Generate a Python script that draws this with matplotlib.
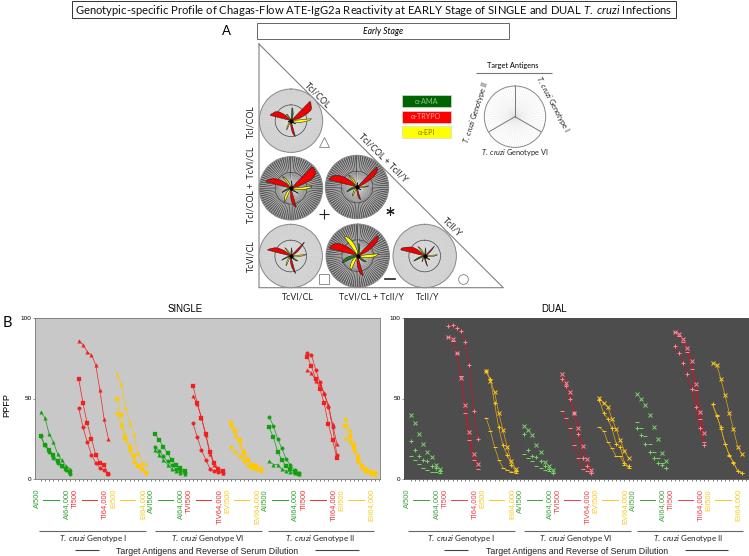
import matplotlib
matplotlib.use('Agg')
import matplotlib.pyplot as plt
import numpy as np

plt.rcParams['font.family'] = ['Liberation Sans', 'DejaVu Sans']
plt.rcParams['mathtext.fontset'] = 'custom'
plt.rcParams['mathtext.it'] = 'Lato:italic'
plt.rcParams['mathtext.rm'] = 'Lato'

W, H = 749, 556

first_labels = ['AI500', 'TI500', 'EI500', 'AVI500', 'TVI500', 'EVI500', 'AII500', 'TII500', 'EII500']
last_labels = ['AI64,000', 'TI64,000', 'EI64,000', 'AI64,000', 'TIV64,000', 'EVI64,000', 'AII64,000', 'TII64,000', 'EII64,000']
genotype_names = ['Genotype I', 'Genotype VI', 'Genotype II']

# values per series: 9 groups (AI TI EI AVI TVI EVI AII TII EII) of 8 dilutions
single_tri = [41.5, 38, 28, 23, 15.5, 11.5, 8, 6,
              86, 83.5, 79, 77, 71, 55, 37, 25,
              65, 59, 45, 35, 28, 16, 10, 9.5,
              18, 15, 12, 9, 6, 5, 3.5, 3,
              51.5, 46.5, 38, 27.5, 15.5, 9, 5, 4,
              33, 27, 22, 14, 11.5, 8, 7, 5.5,
              11, 9, 9, 6, 5, 4.5, 4, 3,
              67.5, 66, 61, 59, 53.5, 46, 34, 22,
              25.5, 23.5, 18, 11, 7, 5, 4, 2.5]
single_sq = [26.5, 21, 18, 15, 11, 8, 6, 4.5,
             62, 47, 34.5, 25, 15, 10, 8.5, 3,
             50, 40, 26, 20, 14, 8, 6, 4,
             28, 24.5, 20, 16, 11.5, 8.5, 7, 5,
             58, 47, 38, 28, 17, 10, 6.5, 5,
             34.5, 30, 24, 17, 12, 9, 8, 6,
             32, 26, 17, 12, 8, 6, 4.5, 3,
             76, 70, 62, 56, 47, 34, 24, 13,
             33, 26, 19, 11.5, 8, 5, 4, 3.5]
single_cir = [26.5, 21, 17, 13, 10, 8, 5.5, 3,
              44, 32, 23, 15, 10, 7, 5.5, 3,
              41, 33.5, 25, 18, 10.5, 8, 6, 4,
              20, 17.5, 14, 11, 8.5, 6, 5, 4,
              34.5, 26, 18, 12, 6.5, 5, 4.5, 4,
              20, 16.5, 14, 11, 8, 7, 6, 5,
              38.5, 33, 25, 19, 12.5, 8.5, 5.5, 4,
              78, 77, 68, 60, 53, 45, 32, 15,
              37.5, 30, 22, 14, 8, 6, 5, 4]
dual_x = [40, 34.5, 28, 22, 16.5, 13.5, 9, 6.5,
          88.5, 87, 78, 63, 46, 29, 15.5, 9.5,
          67, 61, 54, 41, 30.5, 20, 11, 6.5,
          33, 30.5, 27.5, 21, 16.5, 10.5, 8, 5.5,
          65, 59.5, 54, 41, 31.5, 20.5, 12.5, 5.5,
          50.5, 47, 45, 37.5, 31, 24, 17.5, 13,
          53, 50, 46, 40, 32.5, 25, 16, 11,
          91.5, 90, 87, 81.5, 73, 59, 41.5, 28.5,
          72, 71, 62, 52, 41, 31, 20, 15.5]
dual_plus = [23.5, 18, 14.5, 12, 11, 8, 7, 5,
             95, 95.5, 94, 92, 85, 70.5, 42, 25,
             67, 62, 47, 32, 21, 15, 9, 5,
             28, 18, 14.5, 13.5, 11, 8, 6, 4,
             62, 58, 50, 41, 28, 13, 8, 4,
             49, 41, 37.5, 31.5, 22, 20, 10, 8,
             31.5, 27.5, 21.5, 16.5, 13, 10, 8.5, 7,
             82.5, 78.5, 72, 65, 56, 45, 31.5, 21,
             46.5, 39, 32, 22, 15, 10, 5, 4]
dual_minus = [14.5, 11.5, 9.5, 7, 5.5, 4.5, 4.5, 3.5,
              88.5, 86, 78, 64, 41, 24, 12, 6,
              38, 30, 20, 12, 7, 5.5, 4.5, 4,
              15.5, 13, 11, 8, 7, 5.5, 5, 3.5,
              42, 38, 31.5, 21, 13, 6, 5, 3.5,
              32, 30, 23, 19, 14, 14, 9, 7,
              35.5, 31.5, 26.5, 21.5, 16.5, 13, 10, 7,
              91.5, 89, 85, 79, 68.5, 55, 37, 23,
              46.5, 40, 31, 22, 14.5, 10.5, 5, 3.5]

fig = plt.figure(figsize=(W / 100, H / 100), dpi=100, facecolor='white')


def px_axes(x0, y0, x1, y1, **kw):
    return fig.add_axes([x0 / W, 1 - y1 / H, (x1 - x0) / W, (y1 - y0) / H], **kw)


# overlay in pixel coordinates for the boxes and loose text
bg = px_axes(0, 0, W, H)
bg.set_xlim(0, W)
bg.set_ylim(H, 0)
bg.axis('off')
cal = ['Lato', 'DejaVu Sans']


def box(x0, y0, x1, y1, fc='white', ec='#555555', lw=0.7):
    bg.fill([x0, x1, x1, x0], [y0, y0, y1, y1], fc=fc, ec=ec, lw=lw)


def hline(x0, x1, y, color='#555555', lw=0.8):
    bg.plot([x0, x1], [y, y], color=color, lw=lw, solid_capstyle='butt')


box(72, 1, 676, 18, ec='#333333')
bg.text(374, 10, 'Genotypic-specific Profile of Chagas-Flow ATE-IgG2a Reactivity at EARLY Stage of SINGLE and DUAL $T.\\ cruzi$ Infections',
        ha='center', va='center', fontsize=8.1, family=cal, color='#111111')
bg.text(226, 31, 'A', ha='center', va='center', fontsize=9.5, family=cal)
box(257, 23, 509, 39, ec='#666666')
bg.text(383, 31.5, 'Early Stage', ha='center', va='center', fontsize=6.2, style='italic', family=cal)

# triangle
bg.plot([259, 259, 503.3, 259], [44, 287.7, 287.7, 44], color='#808080', lw=0.8)
for x, y, s in [(251, 121.7, 'TcI/COL'), (251, 185, 'TcI/COL +  TcVI/CL'), (251, 256, 'TcVI/CL')]:
    bg.text(x, y, s, rotation=90, ha='center', va='center', fontsize=6.3, family=cal, color='#222222')
for x, s in [(298, 'TcVI/CL'), (371.7, 'TcVI/CL + TcII/Y'), (428, 'TcII/Y')]:
    bg.text(x, 296.7, s, ha='center', va='center', fontsize=6.3, family=cal, color='#222222')
for x, y, s in [(317, 95, 'TcI/COL'), (383, 158, 'TcI/COL + TcII/Y'), (452, 227, 'TcII/Y')]:
    bg.text(x, y, s, rotation=-45, ha='center', va='center', rotation_mode='anchor', fontsize=6.2, family=cal, color='#222222')

# group symbols
bg.plot([324.3], [142], marker='^', ms=7.5, mfc='none', mec='#808080', mew=0.6)
bg.plot([324], [214.3], marker='+', ms=6.5, color='#222222', mew=0.8)
bg.plot([390], [211], marker=(6, 2, 0), ms=6, color='#222222', mew=0.8)
bg.plot([324], [279.3], marker='s', ms=6.5, mfc='none', mec='#808080', mew=0.6)
bg.plot([385, 395], [279, 279], color='#222222', lw=1.2)
bg.plot([462.7], [279], marker='o', ms=7, mfc='none', mec='#808080', mew=0.6)

# legend boxes
legend_names = ['\u03b1-AMA', '\u03b1-TRYPO', '\u03b1-EPI']
legend_fill = ['#006400', '#ff0000', '#ffff00']
legend_text = ['#8fc08f', '#ffb4a8', '#8a7000']
for k, y0 in enumerate([95, 110.5, 126]):
    box(401.7, y0, 451, y0 + 12, fc=legend_fill[k], ec='#cfe0cf', lw=0.5)
    bg.text(426.3, y0 + 6.2, legend_names[k], ha='center', va='center', fontsize=5.2, color=legend_text[k], family=cal)

# target antigens
bg.text(513, 65.5, 'Target Antigens', ha='center', va='center', fontsize=5.3, family=cal)
hline(476, 552, 72.7, color='#777777')
bg.text(553, 104, '$T.\\ cruzi$ Genotype I', rotation=-62, ha='center', va='center', rotation_mode='anchor', fontsize=5.3, family=cal, color='#222222')
bg.text(475.5, 113, '$T.\\ cruzi$ Genotype II', rotation=72, ha='center', va='center', rotation_mode='anchor', fontsize=5.3, family=cal, color='#222222')
bg.text(515, 152, '$T.\\ cruzi$ Genotype VI', ha='center', va='center', fontsize=5.3, family=cal, color='#222222')

# section labels under both charts
for spans, centres, mid, dashes in [
        ([(39, 146), (155, 262), (268, 374)], [92.7, 208, 320], 207.5, [(75, 99), (315, 359)]),
        ([(408, 515), (524, 631), (637, 743)], [461, 576, 688], 576.7, [(444, 468), (685, 728)])]:
    for (a, b), c, n in zip(spans, centres, genotype_names):
        hline(a, b, 531, color='#666666')
        bg.text(c, 538, '$T.\\ cruzi$ ' + n, ha='center', va='center', fontsize=5.8, family=cal, color='#222222')
    bg.text(mid, 551, 'Target Antigens and Reverse of Serum Dilution', ha='center', va='center', fontsize=6.3, color='#222222')
    for a, b in dashes:
        hline(a, b, 550, color='#444444')

bg.text(3, 323, 'B', ha='left', va='center', fontsize=10.5, family=cal)
bg.text(7, 405, 'PPFP', rotation=90, ha='center', va='center', fontsize=6.6)
bg.text(185, 308.5, 'SINGLE', ha='center', va='center', fontsize=6.9)
bg.text(553.7, 308.5, 'DUAL', ha='center', va='center', fontsize=6.9)


# line panels
def panel(rect, xlim, face, series, colors, line_colors, label_colors, markers, ms, mew, edge):
    ax = px_axes(*rect)
    ax.set_facecolor(face)
    ax.set_xlim(*xlim)
    ax.set_ylim(0, 100)
    for sp in ax.spines.values():
        sp.set_color(edge)
        sp.set_linewidth(0.6)
    ax.set_yticks([0, 50, 100])
    ax.tick_params(axis='y', labelsize=4.6, length=1.5, width=0.4, pad=1, color='#444444')
    ax.set_xticks(np.arange(1, 82))
    ax.set_xticklabels([])
    ax.tick_params(axis='x', length=1.5, width=0.5, color='#444444')
    tr = ax.get_xaxis_transform()
    for vals, mk in zip(series, markers):
        for g in range(9):
            s = 1 + 9 * g + np.arange(8)
            v = vals[g * 8:g * 8 + 8]
            c = colors[g % 3]
            ax.plot(s, v, color=line_colors[g % 3], lw=0.5 if g % 3 != 1 or face != '#4d4d4d' else 0.9, zorder=2)
            ax.plot(s, v, ls='none', marker=mk, ms=ms, mfc=c, mec=c, mew=mew, zorder=3)
    for g in range(9):
        c = label_colors[g % 3]
        f = 1 + 9 * g
        ax.text(f - 0.8, -0.062, first_labels[g], transform=tr, rotation=90, ha='center', va='top', fontsize=5.4, color=c, clip_on=False)
        ax.text(f + 6.1, -0.062, last_labels[g], transform=tr, rotation=90, ha='center', va='top', fontsize=5.4, color=c, clip_on=False)
        ax.plot([f + 0.65, f + 4.35], [-0.13, -0.13], transform=tr, color=c, lw=0.7, clip_on=False)
    return ax


panel((35, 318, 380, 479), (-0.35, 81.2), '#c8c8c8',
      [single_tri, single_sq, single_cir], ['#12a012', '#f02020', '#ffc800'], ['#12a012', '#f02020', '#ffc800'],
      ['#2f9f2f', '#ee3030', '#f8c820'], ['^', 's', 'o'], 2.6, 0.2, '#777777')
panel((404, 318, 749, 479), (-0.6, 81.7), '#4d4d4d',
      [dual_x, dual_plus, dual_minus], ['#7fd26f', '#ff8a96', '#ffc81e'], ['#3f5f3f', '#9a2b38', '#e0aa14'],
      ['#3f9f3f', '#e8404a', '#f8c820'], ['x', '+', '_'], 3.4, 0.7, '#4d4d4d')


# roses share the numbers of the line panels
def spokes(ax, color, lw):
    for s in range(81):
        t = s * 2 * np.pi / 81
        ax.plot([t, t], [0, 100], color=color, lw=lw, zorder=1, solid_capstyle='butt')


def polar_disc(cx, cy, r, face, edge):
    ax = px_axes(cx - r, cy - r, cx + r, cy + r, projection='polar')
    ax.set_theta_zero_location('N')
    ax.set_theta_direction(-1)
    ax.set_facecolor(face)
    ax.set_rlim(0, 100)
    ax.autoscale(False)
    ax.set_xticks([])
    ax.set_yticks([])
    ax.grid(False)
    ax.spines['polar'].set_color(edge)
    ax.spines['polar'].set_linewidth(0.7)
    return ax


def rose(cx, cy, vals, face, spoke, spoke_lw):
    ax = polar_disc(cx, cy, 31.7, face, '#888888')
    spokes(ax, spoke, spoke_lw)
    th = np.linspace(0, 2 * np.pi, 200)
    ax.plot(th, np.full(200, 50), color='#444444', lw=0.5, zorder=2)
    fill = {0: '#1f7a1f', 1: '#f00000', 2: '#ffff00'}
    for colour_no in [0, 2, 1]:
        for g in range(colour_no, 9, 3):
            s = np.arange(9 * g, 9 * g + 10)
            r = [0] + list(vals[g * 8:g * 8 + 8]) + [0]
            ax.fill(s * 2 * np.pi / 81, r, fc=fill[colour_no], ec='#1a1a1a', lw=0.35, zorder=3 + colour_no)
    ax.plot([0], [0], marker='o', ms=2, color='black', zorder=9)


rose(291, 120.7, single_tri, '#cfcfcf', '#e6e6e6', 0.22)
rose(290.7, 256, single_sq, '#cfcfcf', '#e6e6e6', 0.22)
rose(424.7, 256, single_cir, '#cfcfcf', '#e6e6e6', 0.22)
rose(291, 188.3, dual_plus, '#5a5a5a', '#d8d8d8', 0.42)
rose(357, 187, dual_minus, '#5a5a5a', '#d8d8d8', 0.42)
rose(357.7, 255.7, dual_x, '#5a5a5a', '#d8d8d8', 0.42)

legend_ax = polar_disc(515, 116.7, 30.7, 'white', '#888888')
spokes(legend_ax, '#e4e4e4', 0.25)
for s in [0, 27, 54]:
    t = s * 2 * np.pi / 81
    legend_ax.plot([t, t], [0, 100], color='#777777', lw=0.7, zorder=2)

fig.savefig('out.png', dpi=100)
